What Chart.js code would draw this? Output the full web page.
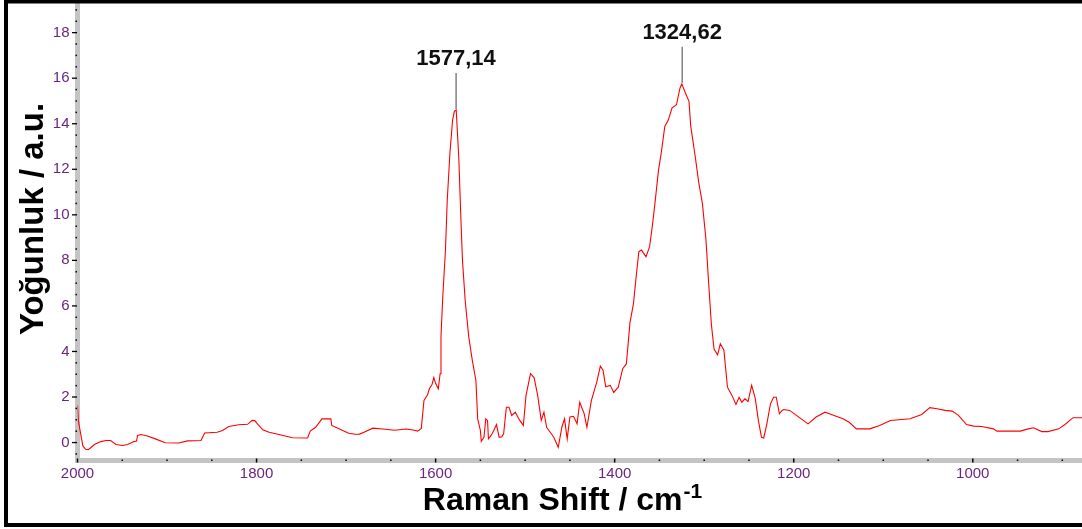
<!DOCTYPE html>
<html>
<head>
<meta charset="utf-8">
<title>Raman Shift</title>
<script src="https://cdn.jsdelivr.net/npm/chart.js@4.4.1/dist/chart.umd.min.js"></script>
<style>
    html, body { margin: 0; padding: 0; background: #ffffff; }
    canvas { display: block; }
</style>
</head>
<body>
<canvas id="ramanChart" width="1082" height="529"></canvas>
<script>
// Raman spectrum

// Spectrum (cm-1, a.u.)
const shifts = [
    2000, 1999, 1997, 1994, 1991, 1988, 1985, 1981, 1974, 1968, 1963, 1957, 1950, 1944, 1937, 1934,
    1933, 1929, 1922, 1913, 1902, 1887, 1877, 1862, 1858, 1844, 1838, 1831, 1820, 1810, 1805, 1802,
    1799, 1793, 1786, 1775, 1760, 1743, 1740, 1734, 1727, 1717, 1716, 1708, 1697, 1690, 1685, 1680,
    1670, 1659, 1646, 1633, 1625, 1620, 1616, 1613, 1609, 1607, 1604, 1602, 1600, 1597, 1595, 1594,
    1592, 1589, 1587, 1584, 1581, 1579, 1577, 1576, 1574, 1572, 1570, 1567, 1563, 1559, 1555, 1553,
    1550, 1549, 1546, 1544, 1542, 1541, 1538, 1535, 1532, 1529, 1526, 1524, 1521, 1518, 1515, 1511,
    1506, 1502, 1499, 1494, 1490, 1486, 1482, 1479, 1476, 1472, 1468, 1463, 1459, 1456, 1453, 1450,
    1446, 1442, 1439, 1434, 1431, 1426, 1420, 1416, 1413, 1410, 1405, 1401, 1396, 1391, 1387, 1385,
    1383, 1379, 1376, 1373, 1370, 1365, 1361, 1358, 1355, 1351, 1348, 1344, 1340, 1336, 1331, 1327,
    1325, 1321, 1317, 1315, 1310, 1306, 1302, 1298, 1295, 1292, 1289, 1285, 1282, 1278, 1274, 1269,
    1264.5, 1261, 1258, 1254.5, 1251, 1247, 1243, 1239.5, 1236, 1233.5, 1230, 1226, 1222.5, 1219.5, 1216, 1213,
    1211, 1204.5, 1197, 1184, 1175, 1165, 1158, 1145, 1138, 1130, 1115, 1104, 1092, 1070, 1057, 1048,
    1040, 1031, 1023, 1016, 1007, 999, 990, 977, 973, 947, 938, 932, 923, 916, 904, 897,
    888, 878
];
const intensities = [
    1.63, 0.95, 0.5, -0.15, -0.3, -0.31, -0.22, -0.09, 0.04, 0.09, 0.09, -0.09, -0.13, -0.09, 0.04, 0.06,
    0.31, 0.35, 0.29, 0.16, -0.01, -0.02, 0.07, 0.09, 0.42, 0.45, 0.53, 0.70, 0.78, 0.80, 0.97, 0.96,
    0.82, 0.56, 0.45, 0.35, 0.21, 0.20, 0.50, 0.67, 1.04, 1.04, 0.75, 0.60, 0.41, 0.36, 0.37, 0.45,
    0.63, 0.59, 0.54, 0.59, 0.55, 0.50, 0.62, 1.85, 2.1, 2.36, 2.55, 2.85, 2.6, 2.36, 3.02, 4.64,
    6.40, 8.45, 10.65, 12.71, 14.17, 14.55, 14.6, 13.88, 12.41, 10.08, 8.01, 6.25, 4.64, 3.61, 2.73, 1.04,
    0.53, 0.05, 0.23, 1.04, 0.97, 0.16, 0.31, 0.53, 0.79, 0.23, 0.25, 0.38, 1.55, 1.55, 1.19, 1.33,
    0.97, 0.75, 2.07, 3.02, 2.85, 2.07, 0.97, 1.33, 0.67, 0.45, 0.23, -0.21, 0.67, 1.04, 0.16, 1.12,
    1.15, 0.82, 1.77, 1.26, 0.67, 1.85, 2.65, 3.35, 3.17, 2.45, 2.51, 2.2, 2.43, 3.24, 3.45, 4.3,
    5.24, 6.1, 7.28, 8.38, 8.45, 8.16, 8.6, 9.48, 10.5, 11.97, 12.71, 13.88, 14.17, 14.69, 14.83, 15.57,
    15.75, 15.35, 14.98, 13.88, 12.56, 11.39, 10.5, 8.89, 6.98, 5.2, 4.1, 3.85, 4.34, 4.05, 2.43, 2.07,
    1.67, 1.99, 1.77, 1.92, 1.8, 2.51, 1.95, 0.97, 0.23, 0.2, 0.82, 1.7, 1.99, 1.99, 1.26, 1.41,
    1.45, 1.41, 1.19, 0.82, 1.12, 1.33, 1.23, 1.04, 0.89, 0.60, 0.60, 0.75, 0.97, 1.04, 1.23, 1.53,
    1.48, 1.41, 1.38, 1.19, 0.79, 0.72, 0.70, 0.60, 0.50, 0.50, 0.60, 0.65, 0.48, 0.48, 0.6, 0.79,
    1.09, 1.09
];

// Peak markers
const peakShifts = [1577.14, 1324.62];
const peakLabels = ['1577,14', '1324,62'];

// Axis tick labels
const xTickLabels = [2000, 1800, 1600, 1400, 1200, 1000];
const yTickLabels = [0, 2, 4, 6, 8, 10, 12, 14, 16, 18];

const TICK_COLOR = '#6a2580';
const AXIS_GRAY = '#c4c4c4';

// Intensity of the spectrum point closest to a given shift
function intensityAt(shift) {
    let best = 0;
    shifts.forEach((s, i) => {
        if (Math.abs(s - shift) < Math.abs(shifts[best] - shift)) best = i;
    });
    return intensities[best];
}

// Frame, tick marks, axis titles and peak labels
const decorPlugin = {
    id: 'decor',
    afterDraw(chart) {
        const ctx = chart.ctx;
        const xs = chart.scales.x;
        const ys = chart.scales.y;
        const area = chart.chartArea;
        ctx.save();

        // tick marks on the gray axis lines
        ctx.fillStyle = '#000000';
        xs.ticks.forEach(t => {
            const px = xs.getPixelForValue(t.value);
            if (xTickLabels.includes(t.value)) ctx.fillRect(px - 0.75, area.bottom - 2, 1.5, 4);
            else ctx.fillRect(px - 0.75, area.bottom - 1, 1.5, 1.5);
        });
        ys.ticks.forEach(t => {
            const py = ys.getPixelForValue(t.value);
            if (yTickLabels.includes(t.value)) ctx.fillRect(area.left - 5.5, py - 0.6, 5, 1.3);
            else ctx.fillRect(area.left - 2, py - 0.7, 1.5, 1.5);
        });

        // peak leader lines and labels
        peakShifts.forEach((shift, i) => {
            const px = xs.getPixelForValue(shift);
            const py = ys.getPixelForValue(intensityAt(shift));
            const top = py - 37;
            ctx.strokeStyle = '#444444';
            ctx.lineWidth = 1;
            ctx.beginPath();
            ctx.moveTo(px, py - 1);
            ctx.lineTo(px, top);
            ctx.stroke();
            ctx.fillStyle = '#111111';
            ctx.font = 'bold 22px Arial, "Liberation Sans", sans-serif';
            ctx.textAlign = 'center';
            ctx.textBaseline = 'alphabetic';
            ctx.fillText(peakLabels[i], px, top - 8);
        });

        // x axis title with superscript
        const mainText = 'Raman Shift / cm';
        const supText = '-1';
        ctx.fillStyle = '#000000';
        ctx.textAlign = 'left';
        ctx.font = 'bold 32px Arial, "Liberation Sans", sans-serif';
        const wMain = ctx.measureText(mainText).width;
        ctx.font = 'bold 21px Arial, "Liberation Sans", sans-serif';
        const wSup = ctx.measureText(supText).width;
        const startX = 562 - (wMain + wSup) / 2;
        ctx.font = 'bold 32px Arial, "Liberation Sans", sans-serif';
        ctx.fillText(mainText, startX, 510);
        ctx.font = 'bold 21px Arial, "Liberation Sans", sans-serif';
        ctx.fillText(supText, startX + wMain + 1, 498);

        // y axis title
        ctx.save();
        ctx.translate(43, 219);
        ctx.rotate(-Math.PI / 2);
        ctx.textAlign = 'center';
        ctx.font = 'bold 33px Arial, "Liberation Sans", sans-serif';
        ctx.fillText('Yoğunluk / a.u.', 0, 0);
        ctx.restore();

        // outer black frame
        ctx.strokeStyle = '#000000';
        ctx.lineWidth = 4;
        ctx.beginPath();
        ctx.moveTo(1090, 1.5);
        ctx.lineTo(6, 1.5);
        ctx.lineTo(6, 525);
        ctx.lineTo(1090, 525);
        ctx.stroke();

        ctx.restore();
    }
};

const ctx = document.getElementById('ramanChart').getContext('2d');

new Chart(ctx, {
    type: 'line',
    data: {
        datasets: [{
            label: 'Raman',
            data: shifts.map((s, i) => ({ x: s, y: intensities[i] })),
            borderColor: '#ff0000',
            borderWidth: 1.1,
            pointRadius: 0,
            tension: 0,
            fill: false
        }]
    },
    options: {
        responsive: false,
        animation: false,
        devicePixelRatio: 1,
        layout: { padding: { top: 3, right: 0, bottom: 0, left: 0 } },
        plugins: {
            legend: { display: false },
            tooltip: { enabled: false }
        },
        scales: {
            x: {
                type: 'linear',
                reverse: true,
                min: 878,
                max: 2000,
                grid: { display: false },
                border: { color: AXIS_GRAY, width: 5 },
                ticks: {
                    stepSize: 50,
                    autoSkip: false,
                    maxTicksLimit: 100,
                    includeBounds: false,
                    maxRotation: 0,
                    padding: -4,
                    color: TICK_COLOR,
                    font: { family: 'Arial, "Liberation Sans", sans-serif', size: 15 },
                    callback: value => xTickLabels.includes(value) ? String(value) : ''
                },
                afterFit(scale) {
                    scale.height = 68.5;
                    scale.paddingLeft = 0;
                    scale.paddingRight = 0;
                }
            },
            y: {
                min: -0.79,
                max: 19.3,
                grid: { display: false },
                border: { color: AXIS_GRAY, width: 5 },
                ticks: {
                    stepSize: 0.5,
                    autoSkip: false,
                    maxTicksLimit: 100,
                    includeBounds: false,
                    padding: 0,
                    color: TICK_COLOR,
                    font: { family: 'Arial, "Liberation Sans", sans-serif', size: 15 },
                    callback: value => yTickLabels.includes(value) ? String(value) : ''
                },
                afterFit(scale) {
                    scale.width = 77.5;
                    scale.paddingTop = 0;
                    scale.paddingBottom = 0;
                }
            }
        }
    },
    plugins: [decorPlugin]
});
</script>
</body>
</html>
